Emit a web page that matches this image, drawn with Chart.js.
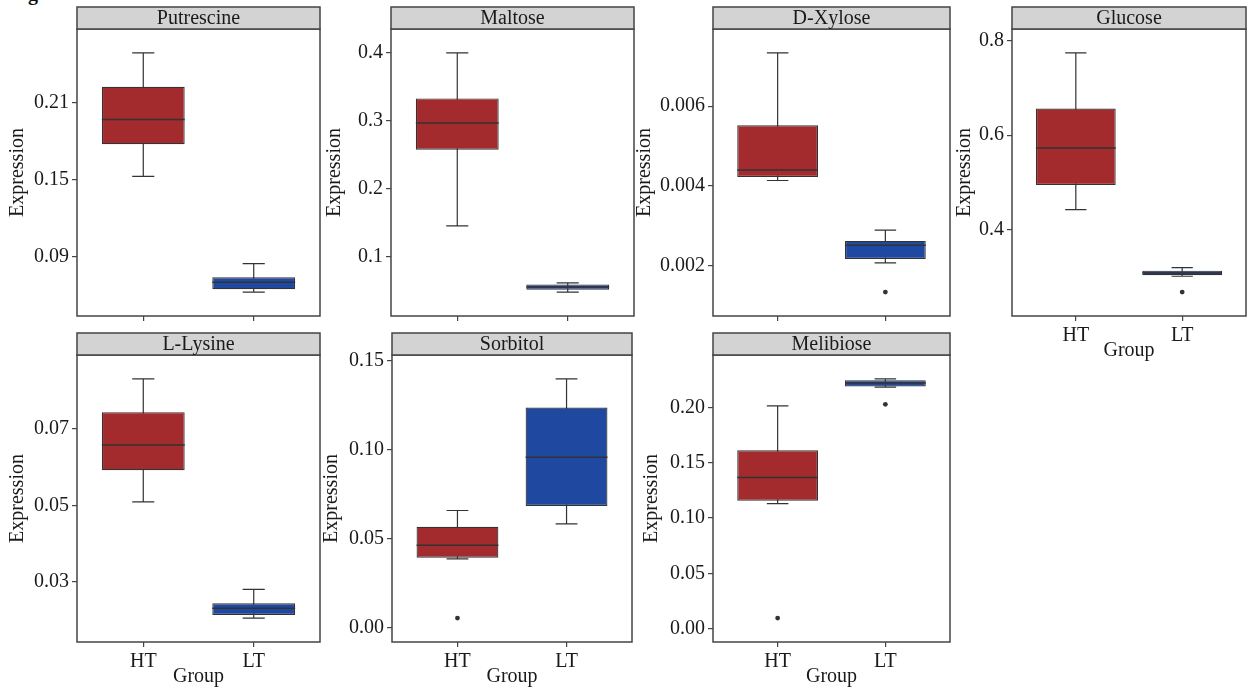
<!DOCTYPE html>
<html>
<head>
<meta charset="utf-8">
<script src="https://cdn.jsdelivr.net/npm/chart.js@4"></script>
<style>
  body { margin: 0; width: 1250px; height: 688px; overflow: hidden; background: #fff; position: relative; }
  canvas { position: absolute; }
  .fig { position: absolute; left: 28px; top: -18px; font: bold 20px "Liberation Serif", serif; color: #111; }
</style>
</head>
<body>
<div class="fig">g</div>
<script>
var metabolites = ['Putrescine', 'Maltose', 'D-Xylose', 'Glucose', 'L-Lysine', 'Sorbitol', 'Melibiose'];
var groups = ['HT', 'LT'];

// five-number summaries: [lower whisker, Q1, median, Q3, upper whisker]
var htStats = [
  [0.1525, 0.1775, 0.1968, 0.2224, 0.2487],
  [0.1452, 0.2575, 0.2966, 0.3330, 0.4000],
  [0.00414, 0.00423, 0.00440, 0.00552, 0.00733],
  [0.4432, 0.4950, 0.5729, 0.6564, 0.7735],
  [0.0509, 0.0592, 0.0658, 0.0744, 0.0831],
  [0.0385, 0.0391, 0.0461, 0.0565, 0.0657],
  [0.1130, 0.1157, 0.1367, 0.1611, 0.2012]
];
var ltStats = [
  [0.0624, 0.0647, 0.0701, 0.0740, 0.0846],
  [0.0477, 0.0511, 0.0551, 0.0590, 0.0614],
  [0.00208, 0.00218, 0.00252, 0.00263, 0.00290],
  [0.3027, 0.3048, 0.3097, 0.3145, 0.3207],
  [0.0205, 0.0213, 0.0231, 0.0244, 0.0280],
  [0.0582, 0.0683, 0.0957, 0.1236, 0.1397],
  [0.2181, 0.2187, 0.2220, 0.2245, 0.2256]
];
var htOutliers = [[], [], [], [], [], [0.0052], [0.0097]];
var ltOutliers = [[], [], [0.00135], [0.2693], [], [], [0.2027]];

var yTickValues = [
  [0.09, 0.15, 0.21],
  [0.1, 0.2, 0.3, 0.4],
  [0.002, 0.004, 0.006],
  [0.4, 0.6, 0.8],
  [0.03, 0.05, 0.07],
  [0, 0.05, 0.10, 0.15],
  [0, 0.05, 0.10, 0.15, 0.20]
];
var yTickLabels = [
  ['0.09', '0.15', '0.21'],
  ['0.1', '0.2', '0.3', '0.4'],
  ['0.002', '0.004', '0.006'],
  ['0.4', '0.6', '0.8'],
  ['0.03', '0.05', '0.07'],
  ['0.00', '0.05', '0.10', '0.15'],
  ['0.00', '0.05', '0.10', '0.15', '0.20']
];

// facet grid: panel box edges and where the y title sits
var panels = [
  { left: 77,   right: 320,  top: 7,   bottom: 316, titleX: 18,  xLabels: false },
  { left: 391,  right: 634,  top: 7,   bottom: 316, titleX: 335, xLabels: false },
  { left: 713,  right: 953,  top: 7,   bottom: 316, titleX: 645, xLabels: false },
  { left: 1012, right: 1249, top: 7,   bottom: 316, titleX: 965, xLabels: true },
  { left: 77,   right: 320,  top: 333, bottom: 642, titleX: 18,  xLabels: true },
  { left: 392,  right: 635,  top: 333, bottom: 642, titleX: 332, xLabels: true },
  { left: 713,  right: 953,  top: 333, bottom: 642, titleX: 652, xLabels: true }
];

var STRIP_H = 22;
var RED = '#a32b2e';
var BLUE = '#1f48a0';
var INK = '#333333';
var FRAME = '#444444';

Chart.defaults.font.family = '"Liberation Serif", "Times New Roman", serif';
Chart.defaults.font.size = 20;
Chart.defaults.color = '#1a1a1a';

// whiskers, medians, panel frame and the grey facet strip
var boxParts = {
  id: 'boxParts',
  beforeDatasetsDraw: function (chart, args, opts) {
    var ctx = chart.ctx, x = chart.scales.x, y = chart.scales.y;
    ctx.save();
    ctx.strokeStyle = INK;
    ctx.lineWidth = 1.2;
    opts.stats.forEach(function (s, k) {
      var px = x.getPixelForValue(k + 1);
      var cap = x.getPixelForValue(k + 1.1) - px;
      var lo = y.getPixelForValue(s[0]), hi = y.getPixelForValue(s[4]);
      ctx.beginPath();
      ctx.moveTo(px, lo); ctx.lineTo(px, hi);
      ctx.moveTo(px - cap, lo); ctx.lineTo(px + cap, lo);
      ctx.moveTo(px - cap, hi); ctx.lineTo(px + cap, hi);
      ctx.stroke();
    });
    ctx.restore();
  },
  afterDatasetsDraw: function (chart, args, opts) {
    var ctx = chart.ctx, x = chart.scales.x, y = chart.scales.y;
    ctx.save();
    ctx.strokeStyle = INK;
    ctx.lineWidth = 1.5;
    opts.stats.forEach(function (s, k) {
      var px = x.getPixelForValue(k + 1);
      var half = x.getPixelForValue(k + 1.375) - px;
      var py = y.getPixelForValue(s[2]);
      ctx.beginPath();
      ctx.moveTo(px - half, py); ctx.lineTo(px + half, py);
      ctx.stroke();
    });
    ctx.restore();
  },
  afterDraw: function (chart, args, opts) {
    var ctx = chart.ctx, a = chart.chartArea;
    var w = a.right - a.left;
    ctx.save();
    ctx.lineWidth = 1.5;
    ctx.strokeStyle = FRAME;
    ctx.strokeRect(a.left, a.top, w, a.bottom - a.top);
    ctx.fillStyle = '#d3d3d3';
    ctx.fillRect(a.left, a.top - STRIP_H, w, STRIP_H);
    ctx.strokeRect(a.left, a.top - STRIP_H, w, STRIP_H);
    ctx.fillStyle = '#1a1a1a';
    ctx.font = '20px "Liberation Serif", serif';
    ctx.textAlign = 'center';
    ctx.textBaseline = 'middle';
    ctx.fillText(opts.title, (a.left + a.right) / 2, a.top - STRIP_H / 2 + 1);
    ctx.restore();
  }
};

panels.forEach(function (p, i) {
  var cl = p.titleX - 12;
  var ct = p.top - 2;
  // the y axis asks for half a label height below the panel, so keep more than that
  var xH = p.xLabels ? 47 : 20;
  var canvas = document.createElement('canvas');
  canvas.width = p.right + 1 - cl;
  canvas.height = p.bottom + xH - ct;
  canvas.style.left = cl + 'px';
  canvas.style.top = ct + 'px';
  document.body.appendChild(canvas);

  var stats = [htStats[i], ltStats[i]];
  var all = htStats[i].concat(ltStats[i], htOutliers[i], ltOutliers[i]);
  var lo = Math.min.apply(null, all), hi = Math.max.apply(null, all);
  var pad = (hi - lo) * 0.1;

  var outliers = [];
  htOutliers[i].forEach(function (v) { outliers.push({ x: 1, y: v }); });
  ltOutliers[i].forEach(function (v) { outliers.push({ x: 2, y: v }); });

  new Chart(canvas.getContext('2d'), {
    type: 'bar',
    data: {
      datasets: [{
        data: stats.map(function (s, k) { return { x: k + 1, y: [s[1], s[3]] }; }),
        backgroundColor: [RED, BLUE],
        borderColor: INK,
        borderWidth: 1.2,
        borderSkipped: false,
        categoryPercentage: 1,
        barPercentage: 0.75
      }, {
        type: 'scatter',
        data: outliers,
        pointRadius: 2.4,
        pointBackgroundColor: INK,
        pointBorderWidth: 0
      }]
    },
    options: {
      responsive: false,
      animation: false,
      layout: { padding: { top: p.top - ct + STRIP_H, right: 1, left: 0, bottom: 0 } },
      plugins: {
        legend: { display: false },
        tooltip: { enabled: false },
        boxParts: { stats: stats, title: metabolites[i] }
      },
      scales: {
        x: {
          type: 'linear',
          min: 0.4,
          max: 2.6,
          offset: false,
          afterBuildTicks: function (scale) { scale.ticks = [{ value: 1 }, { value: 2 }]; },
          afterFit: function (scale) { scale.height = xH; },
          ticks: {
            display: p.xLabels,
            padding: 3,
            maxRotation: 0,
            callback: function (v) { return groups[v - 1]; }
          },
          grid: { offset: false, drawOnChartArea: false, drawTicks: true, tickLength: 5, color: FRAME, lineWidth: 1.2 },
          border: { display: false },
          title: { display: p.xLabels, text: 'Group', padding: { top: 0, bottom: 0 } }
        },
        y: {
          min: lo - pad,
          max: hi + pad,
          afterBuildTicks: function (scale) {
            scale.ticks = yTickValues[i].map(function (v) { return { value: v }; });
          },
          afterFit: function (scale) { scale.width = p.left - cl; },
          ticks: {
            padding: 3,
            callback: function (v, idx) { return yTickLabels[i][idx]; }
          },
          grid: { drawOnChartArea: false, drawTicks: true, tickLength: 5, color: FRAME, lineWidth: 1.2 },
          border: { display: false },
          title: { display: true, text: 'Expression', padding: { top: 0, bottom: 0 } }
        }
      }
    },
    plugins: [boxParts]
  });
});
</script>
</body>
</html>
